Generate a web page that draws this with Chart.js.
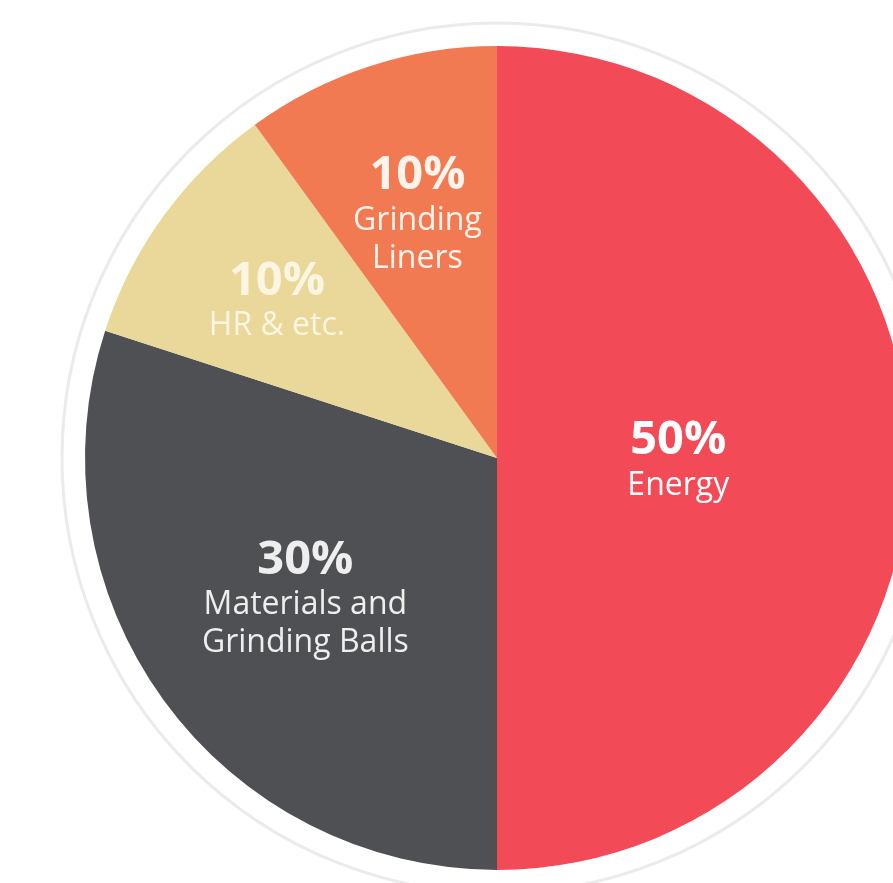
<!DOCTYPE html>
<html>
<head>
<meta charset="utf-8">
<script src="https://cdn.jsdelivr.net/npm/chart.js@4.4.1/dist/chart.umd.min.js"></script>
<style>
  html, body { margin: 0; padding: 0; background: #fff; overflow: hidden; }
  #wrap { width: 893px; height: 883px; overflow: hidden; position: relative; }
  canvas { position: absolute; left: 0; top: 0; }
</style>
</head>
<body>
<div id="wrap"><canvas id="pie" width="920" height="883"></canvas></div>
<script>
// slices go clockwise from 12 o'clock
const categories = ["Energy", "Materials and\nGrinding Balls", "HR & etc.", "Grinding\nLiners"];
const shares = [50, 30, 10, 10];
const sliceColors = ["#f24a57", "#4e5053", "#e9d899", "#f27a52"];
const labelColors = ["#ffffff", "#eeeeee", "#fbf5e2", "#fff4ec"];
// how far out along the slice bisector each label block sits (fraction of radius)
const labelRadius = [0.44, 0.575, 0.66, 0.625];

const outerRing = {
  id: "outerRing",
  beforeDatasetsDraw(chart) {
    const arc = chart.getDatasetMeta(0).data[0];
    if (!arc)
      return;
    const ctx = chart.ctx;
    ctx.save();
    ctx.beginPath();
    ctx.arc(arc.x, arc.y, arc.outerRadius + 23, 0, Math.PI * 2);
    ctx.strokeStyle = "#ebebec";
    ctx.lineWidth = 3;
    ctx.stroke();
    ctx.restore();
  }
};

const sliceLabels = {
  id: "sliceLabels",
  afterDatasetsDraw(chart) {
    const ctx = chart.ctx;
    const meta = chart.getDatasetMeta(0);
    meta.data.forEach((arc, i) => {
      const mid = (arc.startAngle + arc.endAngle) / 2;
      const r = arc.outerRadius * labelRadius[i];
      const x = arc.x + Math.cos(mid) * r;
      const y = arc.y + Math.sin(mid) * r;
      const names = categories[i].split("\n");
      const lines = [{text: shares[i] + "%", font: "bold 47px 'Open Sans'"}];
      names.forEach((n) => lines.push({text: n, font: "32px 'Open Sans'"}));
      let cy = y - (lines.length === 2 ? 17 : 37);
      ctx.save();
      ctx.fillStyle = labelColors[i];
      ctx.textAlign = "center";
      ctx.textBaseline = "middle";
      lines.forEach((l, k) => {
        ctx.font = l.font;
        ctx.fillText(l.text, x, cy);
        cy += k === 0 ? 45 : 38;
      });
      ctx.restore();
    });
  }
};

new Chart(document.getElementById("pie"), {
  type: "pie",
  data: {
    labels: categories,
    datasets: [{
      data: shares,
      backgroundColor: sliceColors,
      borderWidth: 0
    }]
  },
  options: {
    responsive: false,
    animation: false,
    layout: {
      padding: {left: 85, right: 11, top: 46, bottom: 13}
    },
    plugins: {
      legend: {display: false},
      tooltip: {enabled: false}
    }
  },
  plugins: [outerRing, sliceLabels]
});
</script>
</body>
</html>
